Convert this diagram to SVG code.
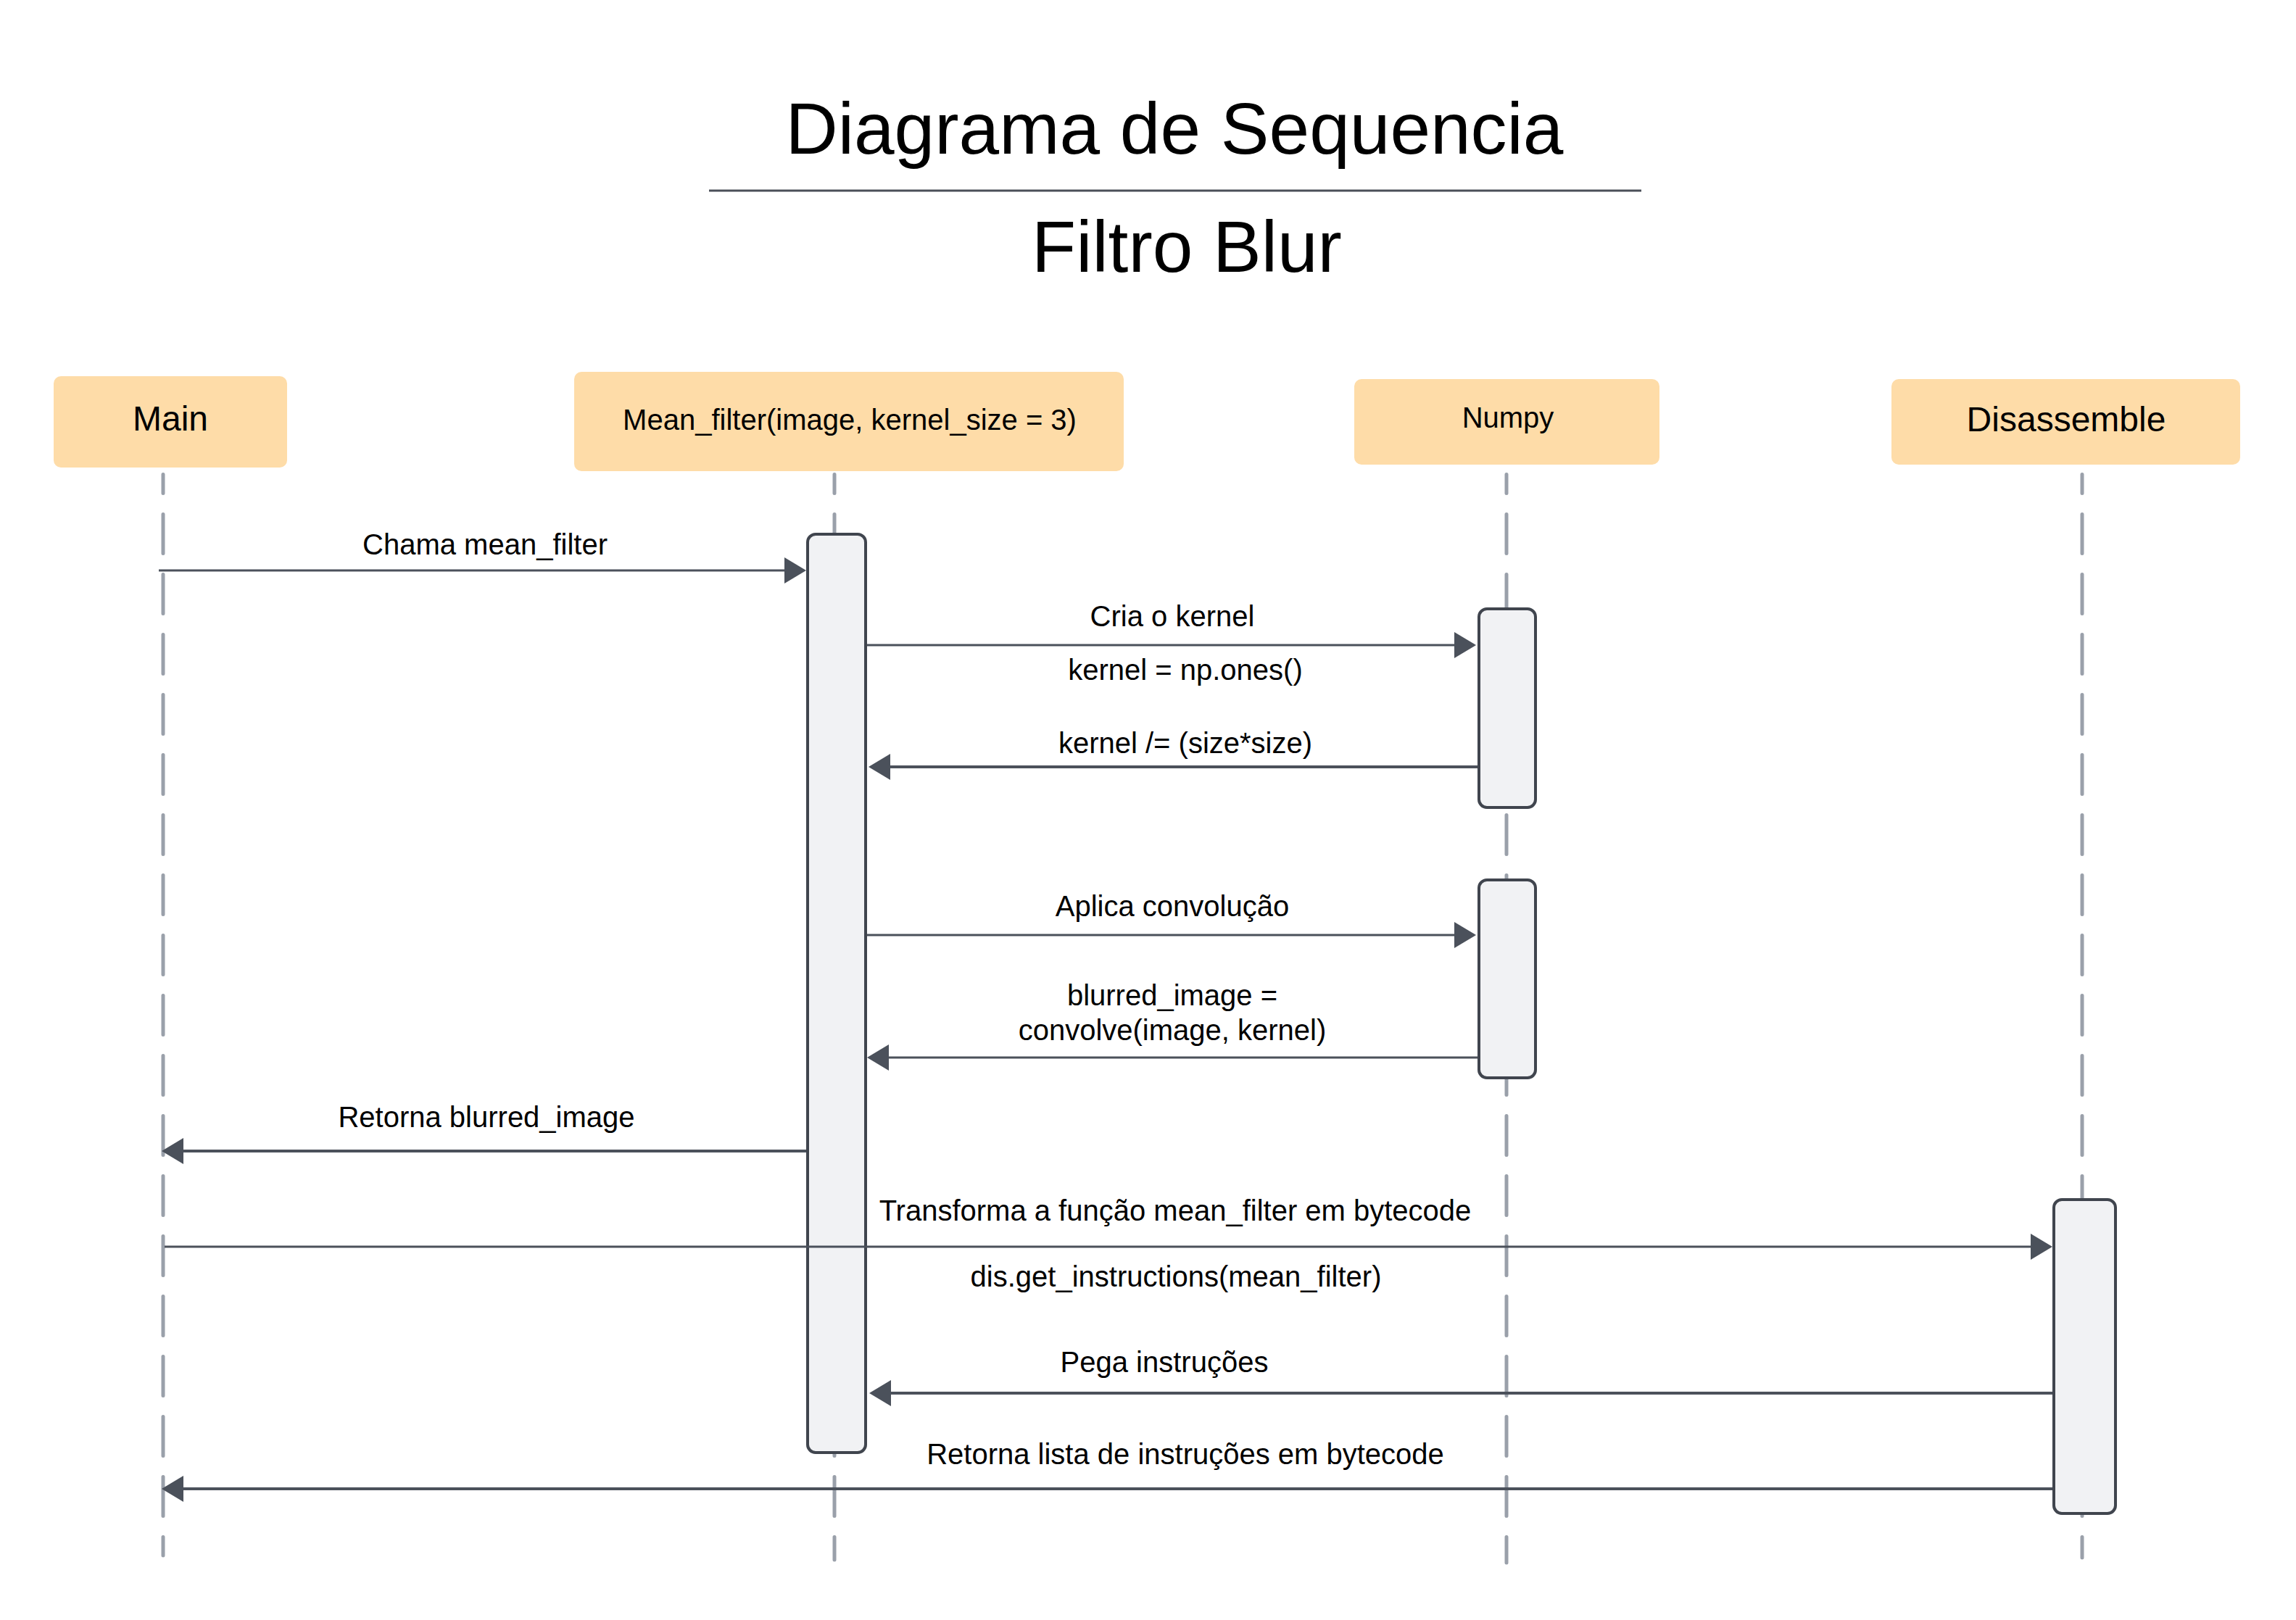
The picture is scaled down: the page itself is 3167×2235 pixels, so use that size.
<svg xmlns="http://www.w3.org/2000/svg" width="3167" height="2235" viewBox="0 0 3167 2235">
  <style>
    text { font-family: "Liberation Sans", Arial, sans-serif; fill: #000; }
    .title { font-size: 100px; text-anchor: middle; }
    .head { fill: #fedca8; }
    .h48 { font-size: 48px; text-anchor: middle; }
    .h40 { font-size: 40px; text-anchor: middle; }
    .lbl { font-size: 40px; text-anchor: middle; }
    .life { stroke: #9aa0aa; stroke-width: 5; stroke-linecap: round; stroke-dasharray: 54 29; stroke-dashoffset: 28; fill: none; }
    .act { fill: #f1f2f4; stroke: #40454e; stroke-width: 4; }
    .msg { stroke: #4b515b; stroke-width: 3; fill: none; marker-end: url(#ah); }
    .ret { stroke: #4b515b; stroke-width: 4; fill: none; marker-end: url(#ah); }
  </style>
  <defs>
    <marker id="ah" viewBox="0 0 30 36" refX="15" refY="18" markerWidth="30" markerHeight="36" markerUnits="userSpaceOnUse" orient="auto">
      <path d="M0,0 L30,18 L0,36 Z" fill="#4b515b"/>
    </marker>
  </defs>
  <rect width="3167" height="2235" fill="#ffffff"/>

  <g id="title">
    <text class="title" x="1620" y="212">Diagrama de Sequencia</text>
    <line x1="978" y1="263" x2="2264" y2="263" stroke="#4a4f59" stroke-width="3"/>
    <text class="title" x="1637" y="375">Filtro Blur</text>
  </g>

  <g id="lifelines">
    <path class="life" d="M225,654.5 V2146"/>
    <path class="life" d="M1151,654.5 V2152"/>
    <path class="life" d="M2078,654.5 V2156"/>
    <path class="life" d="M2872,654.5 V2149"/>
  </g>

  <g id="node-main">
    <rect class="head" x="74" y="519" width="322" height="126" rx="10"/>
    <text class="h48" x="235" y="594">Main</text>
  </g>
  <g id="node-mean-filter">
    <rect class="head" x="792" y="513" width="758" height="137" rx="10"/>
    <text class="h40" x="1172" y="593">Mean_filter(image, kernel_size = 3)</text>
  </g>
  <g id="node-numpy">
    <rect class="head" x="1868" y="523" width="421" height="118" rx="10"/>
    <text class="h40" x="2080" y="590">Numpy</text>
  </g>
  <g id="node-disassemble">
    <rect class="head" x="2609" y="523" width="481" height="118" rx="10"/>
    <text class="h48" x="2850" y="595">Disassemble</text>
  </g>

  <g id="activations">
    <rect id="act-mean" class="act" x="1114" y="737" width="80" height="1267" rx="11"/>
    <rect id="act-numpy-1" class="act" x="2040" y="840" width="78" height="274" rx="11"/>
    <rect id="act-numpy-2" class="act" x="2040" y="1214" width="78" height="273" rx="11"/>
    <rect id="act-disassemble" class="act" x="2833" y="1655" width="85" height="433" rx="11"/>
  </g>

  <g id="connectors">
    <path class="msg" d="M219,787 H1097"/>
    <path class="msg" d="M1196,890 H2021"/>
    <path class="ret" d="M2038,1058 H1213"/>
    <path class="msg" d="M1196,1290 H2021"/>
    <path class="msg" d="M2038,1459 H1211"/>
    <path class="ret" d="M1112,1588 H238"/>
    <path class="msg" d="M227,1720 H2816"/>
    <path class="ret" d="M2831,1922 H1214"/>
    <path class="ret" d="M2831,2054 H238"/>
  </g>

  <g id="labels">
    <text class="lbl" x="669" y="765">Chama mean_filter</text>
    <text class="lbl" x="1617" y="864">Cria o kernel</text>
    <text class="lbl" x="1635" y="938">kernel = np.ones()</text>
    <text class="lbl" x="1635" y="1039">kernel /= (size*size)</text>
    <text class="lbl" x="1617" y="1264">Aplica convolução</text>
    <text class="lbl" x="1617" y="1387">blurred_image =</text>
    <text class="lbl" x="1617" y="1435">convolve(image, kernel)</text>
    <text class="lbl" x="671" y="1555">Retorna blurred_image</text>
    <text class="lbl" x="1621" y="1684">Transforma a função mean_filter em bytecode</text>
    <text class="lbl" x="1622" y="1775">dis.get_instructions(mean_filter)</text>
    <text class="lbl" x="1606" y="1893">Pega instruções</text>
    <text class="lbl" x="1635" y="2020">Retorna lista de instruções em bytecode</text>
  </g>
</svg>
